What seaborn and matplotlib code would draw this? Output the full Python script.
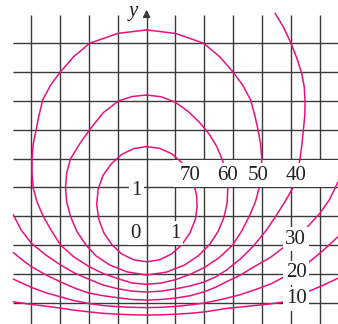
import matplotlib
matplotlib.use('Agg')
import matplotlib.pyplot as plt
import seaborn as sns

# contour levels, each as a list of (x, y) points
c70_x = [0, 0.45, 0.87, 1.20, 1.47, 1.64, 1.73, 1.75, 1.69, 1.50, 1.21, 0.86, 0.45, 0, -0.45, -0.86, -1.19, -1.48, -1.66, -1.73, -1.68, -1.51, -1.22, -0.86, -0.45, 0]
c70_y = [2.42, 2.36, 2.17, 1.88, 1.50, 1.12, 0.72, 0.35, -0.10, -0.58, -1.00, -1.31, -1.51, -1.58, -1.51, -1.31, -1.00, -0.58, -0.10, 0.42, 0.94, 1.42, 1.83, 2.15, 2.35, 2.42]

c60_x = [0, 0.50, 0.98, 1.45, 1.85, 2.17, 2.43, 2.62, 2.75, 2.81, 2.79, 2.68, 2.48, 2.18, 1.78, 1.30, 0.68, 0, -0.68, -1.28, -1.76, -2.10, -2.42, -2.64, -2.77, -2.81, -2.77, -2.64, -2.33, -1.98, -1.50, -0.98, -0.50, 0]
c60_y = [4.21, 4.15, 3.97, 3.63, 3.24, 2.85, 2.42, 1.97, 1.47, 0.97, 0.47, -0.03, -0.52, -0.98, -1.38, -1.70, -1.94, -2.04, -1.93, -1.69, -1.37, -1.00, -0.52, 0.00, 0.50, 0.99, 1.50, 1.99, 2.50, 3.00, 3.60, 4.00, 4.16, 4.21]

c50_x = [0, 1.00, 1.97, 2.52, 3.00, 3.33, 3.60, 3.75, 3.86, 3.95, 3.99, 3.97, 3.90, 3.77, 3.56, 3.30, 2.98, 2.52, 2.00, 1.50, 1.00, 0.50, 0, -0.50, -0.98, -1.50, -1.99, -2.52, -2.98, -3.30, -3.58, -3.80, -3.93, -3.97, -3.97, -3.93, -3.83, -3.73, -3.60, -3.33, -3.00, -2.52, -1.97, -1.00, 0]
c50_y = [6.47, 6.35, 6.01, 5.55, 5.00, 4.55, 4.04, 3.50, 3.00, 2.50, 2.00, 1.50, 1.00, 0.50, 0.01, -0.50, -1.00, -1.43, -1.78, -2.02, -2.20, -2.32, -2.36, -2.32, -2.17, -1.99, -1.75, -1.41, -1.00, -0.50, 0.00, 0.50, 0.99, 1.50, 1.95, 2.50, 3.00, 3.50, 4.04, 4.55, 5.00, 5.55, 6.01, 6.35, 6.47]

c40_x = [4.45, 4.75, 5.00, 5.20, 5.37, 5.46, 5.49, 5.48, 5.43, 5.38, 5.31, 5.21, 5.08, 4.83, 4.48, 4.15, 3.73, 3.25, 2.75, 2.40, 2.00, 1.50, 1.00, 0.50, 0, -0.50, -0.98, -1.50, -1.99, -2.50, -2.98, -3.50, -3.99, -4.35, -4.62]
c40_y = [7.05, 6.55, 6.01, 5.50, 4.97, 4.50, 4.00, 3.50, 3.00, 2.50, 1.97, 1.50, 1.01, 0.57, 0.01, -0.48, -1.00, -1.48, -1.88, -2.10, -2.28, -2.42, -2.52, -2.60, -2.63, -2.60, -2.52, -2.39, -2.19, -1.97, -1.69, -1.34, -0.94, -0.47, 0.05]

c30_x = [-4.62, -4.30, -3.99, -3.50, -3.00, -2.50, -2.02, -1.50, -0.98, -0.50, 0, 0.50, 1.00, 1.50, 2.00, 2.40, 2.75, 3.25, 3.73, 4.30, 4.77, 5.18, 5.58, 6.00, 6.33, 6.63]
c30_y = [-1.26, -1.52, -1.75, -2.03, -2.27, -2.49, -2.66, -2.76, -2.83, -2.89, -2.91, -2.89, -2.84, -2.76, -2.62, -2.46, -2.28, -2.04, -1.75, -1.42, -1.06, -0.71, -0.36, 0.10, 0.57, 1.19]

c20_x = [-4.62, -3.99, -3.50, -2.98, -2.50, -1.99, -1.50, -0.98, -0.50, 0, 0.50, 1.00, 1.50, 2.00, 2.40, 2.75, 3.25, 3.73, 4.30, 4.77, 5.18, 5.58, 6.10, 6.63]
c20_y = [-2.18, -2.47, -2.65, -2.80, -2.93, -3.03, -3.10, -3.14, -3.16, -3.17, -3.16, -3.13, -3.08, -3.01, -2.93, -2.85, -2.72, -2.56, -2.35, -2.10, -1.87, -1.63, -1.20, -0.71]

c10_x = [-4.62, -3.99, -3.50, -2.98, -2.50, -1.99, -1.50, -0.98, -0.50, 0, 0.50, 1.00, 1.50, 2.00, 2.40, 2.75, 3.25, 3.73, 4.30, 4.77, 5.18, 5.58, 6.10, 6.63]
c10_y = [-2.97, -3.06, -3.12, -3.19, -3.26, -3.32, -3.37, -3.40, -3.42, -3.43, -3.42, -3.40, -3.37, -3.32, -3.26, -3.20, -3.15, -3.10, -3.04, -2.97, -2.84, -2.62, -2.40, -2.15]

contours = [(c70_x, c70_y), (c60_x, c60_y), (c50_x, c50_y), (c40_x, c40_y),
            (c30_x, c30_y), (c20_x, c20_y), (c10_x, c10_y)]

# level labels and where they sit
level_text = ['70', '60', '50', '40', '30', '20', '10']
level_lx = [1.50, 2.79, 3.87, 5.18, 5.17, 5.18, 5.18]
level_ly = [1.51, 1.51, 1.51, 1.51, -0.71, -1.87, -2.78]

grid_x = [-4, -3, -2, -1, 0, 1, 2, 3, 4, 5, 6]
grid_y = [-3, -2, -1, 0, 1, 2, 3, 4, 5, 6]

pink = '#e8127f'
gridc = '#3a3a3a'
txtc = '#231f20'

sns.set_style("white")
plt.rcParams['font.family'] = ['Liberation Serif', 'DejaVu Serif']

fig = plt.figure(figsize=(3.38, 3.24), dpi=100)
ax = fig.add_axes([0, 0, 1, 1])
ax.set_xlim(-5.08, 6.63)
ax.set_ylim(-3.74, 7.51)
ax.axis('off')

# grid
ax.hlines(grid_y, -4.62, 6.63, color=gridc, lw=1.0, zorder=1)
ax.vlines(grid_x, -3.74, 6.99, color=gridc, lw=1.0, zorder=1)
ax.vlines([0], 6.9, 7.1, color=gridc, lw=1.0, zorder=1)
ax.annotate('', xy=(0, 7.27), xytext=(0, 6.85),
            arrowprops=dict(arrowstyle='-|>', color=gridc, lw=1.0, mutation_scale=11),
            zorder=1)
ax.text(-0.47, 7.12, 'y', style='italic', fontsize=15, color=txtc, ha='center', va='center')

# white strip behind the top row of labels
ax.fill_between([0.9, 6.63], 1.03, 1.97, color='white', lw=0, zorder=2)

for cx, cy in contours:
    sns.lineplot(x=cx, y=cy, sort=False, estimator=None, color=pink, lw=1.1, ax=ax, zorder=3)

box = dict(boxstyle='square,pad=0.12', fc='white', ec='none')
for t, lx, ly in zip(level_text, level_lx, level_ly):
    ax.text(lx, ly, t, fontsize=15, color=txtc, ha='center', va='center_baseline',
            bbox=box, zorder=4)

# axis numbers
ax.text(-0.35, 0.98, '1', fontsize=15, color=txtc, ha='center', va='center_baseline', bbox=box, zorder=4)
ax.text(-0.38, -0.50, '0', fontsize=15, color=txtc, ha='center', va='center_baseline', bbox=box, zorder=4)
ax.text(0.99, -0.50, '1', fontsize=15, color=txtc, ha='center', va='center_baseline', bbox=box, zorder=4)

fig.savefig('out.png', dpi=100)
